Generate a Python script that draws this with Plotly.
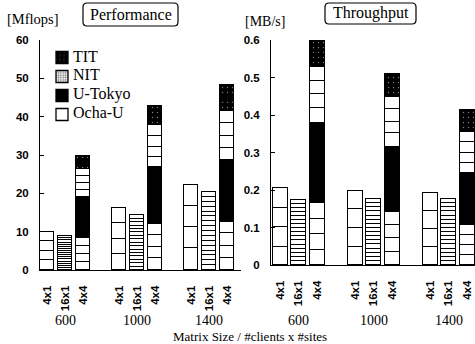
import plotly.graph_objects as go

W, H = 475, 344

group_labels = ["600", "1000", "1400"]
config_labels = ["4x1", "16x1", "4x4"]
legend_sites = ["TIT", "NIT", "U-Tokyo", "Ocha-U"]

# ---------------- Performance [Mflops] : per-client contributions ----------------
perf_4x1_ocha = [[2.5, 2.5, 2.5, 2.5], [4.1, 4.1, 4.0, 4.0], [5.7, 5.6, 5.4, 5.5]]
perf_16x1_nit_client = [0.55, 0.89, 1.27]          # each of 16 clients
perf_4x4_ocha = [[2.2, 1.9, 2.2, 2.0], [3.2, 2.9, 3.0, 2.9], [3.1, 3.2, 3.3, 3.0]]
perf_4x4_utokyo = [[2.7, 2.7, 2.7, 2.7], [3.74, 3.74, 3.74, 3.73], [4.03, 4.02, 4.03, 4.02]]
perf_4x4_nit = [[1.8, 1.9, 1.7, 1.8], [2.65, 2.6, 2.8, 2.8], [3.0, 3.3, 3.3, 3.3]]
perf_4x4_tit = [[0.85, 0.85, 0.85, 0.85], [1.28, 1.27, 1.28, 1.27], [1.68, 1.67, 1.68, 1.67]]

# ---------------- Throughput [MB/s] : per-client contributions ----------------
thr_4x1_ocha = [[0.049, 0.0515, 0.0505, 0.0535], [0.049, 0.049, 0.0505, 0.0485], [0.047, 0.049, 0.049, 0.048]]
thr_16x1_nit_client = [0.0109, 0.011, 0.011]       # each of 16 clients
thr_4x4_ocha = [[0.040, 0.0427, 0.0393, 0.044], [0.0355, 0.0355, 0.036, 0.035], [0.0267, 0.0266, 0.0267, 0.027]]
thr_4x4_utokyo = [[0.0535, 0.0535, 0.0535, 0.0535], [0.0435, 0.0435, 0.0435, 0.0435], [0.0344, 0.0344, 0.0344, 0.0343]]
thr_4x4_nit = [[0.039, 0.036, 0.037, 0.037], [0.035, 0.031, 0.033, 0.034], [0.0275, 0.026, 0.029, 0.028]]
thr_4x4_tit = [[0.0173, 0.0172, 0.0173, 0.0172], [0.015, 0.015, 0.015, 0.015], [0.0145, 0.0145, 0.0145, 0.0145]]

N16 = 16

SERIF = "Liberation Serif"
SANS = "Liberation Sans"
LINE = dict(color="black", width=1.3)
STY_WHITE = dict(color="white", line=LINE)
STY_BLACK = dict(color="black", line=LINE)
STY_TIT = dict(color="black", line=LINE,
               pattern=dict(shape=".", fgcolor="white", bgcolor="black", size=5, solidity=0.06))
STY_NIT_LEG = dict(color="white", line=LINE,
                   pattern=dict(shape=".", fgcolor="black", bgcolor="white", size=3, solidity=0.45))

fig = go.Figure()

def pos(g, c):
    return g * 4 + c

def add_stack(xa, ya, c, seg_lists, style):
    # seg_lists[g][k] = contribution of client k in group g
    nclient = len(seg_lists[0])
    for k in range(nclient):
        fig.add_trace(go.Bar(
            x=[pos(g, c) for g in range(len(group_labels))],
            y=[seg_lists[g][k] for g in range(len(group_labels))],
            marker=style, width=0.8, xaxis=xa, yaxis=ya, showlegend=False,
            hoverinfo="skip"))

def add_panel(xa, ya, o41, nit16, o44, ut44, nit44, tit44):
    add_stack(xa, ya, 0, o41, STY_WHITE)
    add_stack(xa, ya, 1, [[v] * N16 for v in nit16], STY_WHITE)
    add_stack(xa, ya, 2, o44, STY_WHITE)
    add_stack(xa, ya, 2, ut44, STY_BLACK)
    add_stack(xa, ya, 2, nit44, STY_WHITE)
    add_stack(xa, ya, 2, tit44, STY_TIT)

add_panel("x", "y", perf_4x1_ocha, perf_16x1_nit_client, perf_4x4_ocha,
          perf_4x4_utokyo, perf_4x4_nit, perf_4x4_tit)
add_panel("x2", "y2", thr_4x1_ocha, thr_16x1_nit_client, thr_4x4_ocha,
          thr_4x4_utokyo, thr_4x4_nit, thr_4x4_tit)

# legend swatches (text is drawn next to them as annotations)
for name, sty in zip(legend_sites, [STY_TIT, STY_NIT_LEG, STY_BLACK, STY_WHITE]):
    fig.add_trace(go.Bar(x=[None], y=[None], name=" ", legendgroup=name, marker=sty,
                         xaxis="x", yaxis="y", showlegend=True))

def px(x):
    return x / W

def py(y):
    return 1 - y / H

tickvals_x = [pos(g, c) for g in range(3) for c in range(3)]
ticktext_x = [config_labels[c] for g in range(3) for c in range(3)]

xcommon = dict(tickmode="array", tickvals=tickvals_x, ticktext=ticktext_x, tickangle=-90,
               showline=True, linecolor="black", linewidth=1, ticks="", showgrid=False,
               zeroline=False, fixedrange=True, ticklabelstandoff=10, automargin=False,
               tickfont=dict(family=SANS, size=11.5, color="black", weight="bold"))
ycommon = dict(showline=True, linecolor="black", linewidth=1, ticks="inside", ticklen=4,
               tickcolor="black", showgrid=False, zeroline=False, automargin=False,
               tickfont=dict(family=SANS, size=11.5, color="black", weight="bold"),
               ticklabelstandoff=8, fixedrange=True)

fig.update_layout(
    width=W, height=H, margin=dict(l=0, r=0, t=0, b=0, pad=0, autoexpand=False),
    paper_bgcolor="white", plot_bgcolor="white",
    barmode="stack", bargap=0,
    xaxis=dict(domain=[px(40), px(241)], range=[-0.39, 10.78], anchor="y", **xcommon),
    yaxis=dict(domain=[py(270), py(40)], range=[0, 60], anchor="x",
               tickvals=[0, 10, 20, 30, 40, 50, 60], **ycommon),
    xaxis2=dict(domain=[px(271), 1.0], range=[-0.48, 10.4], anchor="y2", **xcommon),
    yaxis2=dict(domain=[py(265), py(40)], range=[0, 0.6], anchor="x2",
                tickvals=[0, 0.1, 0.2, 0.3, 0.4, 0.5, 0.6],
                ticktext=["0", "0.1", "0.2", "0.3", "0.4", "0.5", "0.6"], **ycommon),
    legend=dict(x=px(42), y=py(43), xanchor="left", yanchor="top",
                bgcolor="rgba(0,0,0,0)", font=dict(family=SERIF, size=11.5, color="black"),
                traceorder="normal", itemwidth=30, tracegroupgap=0),
    showlegend=True,
)

ann = []
for g, lab in enumerate(group_labels):
    for xr in ("x", "x2"):
        ann.append(dict(x=pos(g, 1), y=py(320), xref=xr, yref="paper", text=lab, showarrow=False,
                        font=dict(family=SERIF, size=14, color="black"),
                        xanchor="center", yanchor="middle"))
# legend labels
for i, name in enumerate(legend_sites):
    ann.append(dict(x=px(71), y=py(56 + 19 * i), xref="paper", yref="paper", text=name,
                    showarrow=False, font=dict(family=SERIF, size=16, color="black"),
                    xanchor="left", yanchor="middle"))
ann += [
    dict(x=px(250), y=py(336), xref="paper", yref="paper", text="Matrix Size / #clients x #sites",
         showarrow=False, font=dict(family=SERIF, size=13, color="black"),
         xanchor="center", yanchor="middle"),
    dict(x=px(33), y=py(19), xref="paper", yref="paper", text="[Mflops]", showarrow=False,
         font=dict(family=SERIF, size=14.5, color="black"), xanchor="center", yanchor="middle"),
    dict(x=px(265), y=py(21), xref="paper", yref="paper", text="[MB/s]", showarrow=False,
         font=dict(family=SERIF, size=14, color="black"), xanchor="center", yanchor="middle"),
    dict(x=px(130.5), y=py(14.5), xref="paper", yref="paper", text="Performance", showarrow=False,
         font=dict(family=SERIF, size=16, color="black"), xanchor="center", yanchor="middle"),
    dict(x=px(370.5), y=py(13.5), xref="paper", yref="paper", text="Throughput", showarrow=False,
         font=dict(family=SERIF, size=16, color="black"), xanchor="center", yanchor="middle"),
]
fig.update_layout(annotations=ann)

def rounded_box(x0, y0, x1, y1, r):
    # pixel coordinates -> paper path with rounded corners
    P = lambda x, y: f"{px(x):.5f},{py(y):.5f}"
    return ("M " + P(x0 + r, y0) + " L " + P(x1 - r, y0) + " Q " + P(x1, y0) + " " + P(x1, y0 + r) +
            " L " + P(x1, y1 - r) + " Q " + P(x1, y1) + " " + P(x1 - r, y1) +
            " L " + P(x0 + r, y1) + " Q " + P(x0, y1) + " " + P(x0, y1 - r) +
            " L " + P(x0, y0 + r) + " Q " + P(x0, y0) + " " + P(x0 + r, y0) + " Z")

fig.update_layout(shapes=[
    dict(type="path", xref="paper", yref="paper", path=rounded_box(83, 3, 178, 26, 4),
         line=dict(color="black", width=1.2)),
    dict(type="path", xref="paper", yref="paper", path=rounded_box(325, 3, 416, 24, 4),
         line=dict(color="black", width=1.2)),
])

fig.write_html("out.html", config={"displayModeBar": False},
               post_script="document.body.style.margin='0px';")
